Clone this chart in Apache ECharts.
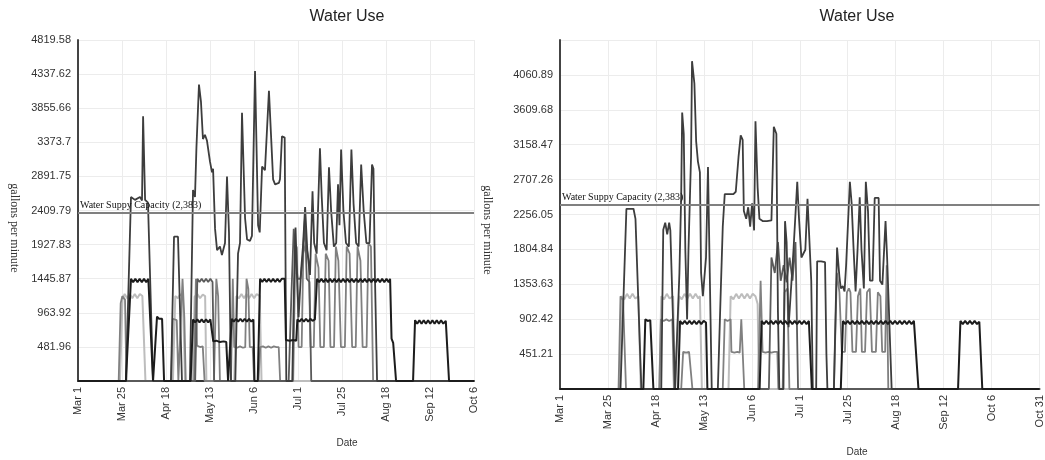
<!DOCTYPE html>
<html>
<head>
<meta charset="utf-8">
<title>Water Use</title>
<script src="https://cdn.jsdelivr.net/npm/echarts@6.0.0/dist/echarts.min.js"></script>
<style>
  html, body { margin: 0; padding: 0; background: #fff; }
  #chart { width: 1045px; height: 460px; }
</style>
</head>
<body>
<div id="chart"></div>
<script>
// tick labels
var leftDates = ['Mar 1', 'Mar 25', 'Apr 18', 'May 13', 'Jun 6', 'Jul 1', 'Jul 25', 'Aug 18', 'Sep 12', 'Oct 6'];
var rightDates = ['Mar 1', 'Mar 25', 'Apr 18', 'May 13', 'Jun 6', 'Jul 1', 'Jul 25', 'Aug 18', 'Sep 12', 'Oct 6', 'Oct 31'];
var leftTicks = ['', '481.96', '963.92', '1445.87', '1927.83', '2409.79', '2891.75', '3373.7', '3855.66', '4337.62', '4819.58'];
var rightTicks = ['', '451.21', '902.42', '1353.63', '1804.84', '2256.05', '2707.26', '3158.47', '3609.68', '4060.89', ''];

var capacity = 2383;
var capacityLabel = 'Water Suppy Capacity (2,383)';

// [day since Mar 1, gallons per minute]  -- left chart
var leftPeak = [[0,0],[26.5,0],[29.3,2600],[31.5,2560],[34.3,2600],[35.4,2550],[36.0,3740],[37.1,2560],[38.7,2520],[41.5,0],
  [51.4,0],[53.1,2040],[55.3,2040],[57.5,0],
  [61.9,0],[63.6,2700],[64.7,2600],[65.5,3300],[66.9,4190],[68.0,3950],[69.1,3420],[70.2,3480],[71.3,3400],[73.0,3100],[74.1,2950],[74.7,3000],[75.8,2150],[76.9,1850],[78.5,1900],[79.6,1780],[81.3,1950],[82.4,2890],[83.5,2100],[84.6,0],
  [87,0],[88.5,1800],[89.6,1950],[90.7,3790],[92.4,2300],[93.5,2000],[95.1,1980],[96.2,2050],[97.9,4380],[99.6,2200],[100.5,2100],[101.8,3030],[103.4,2980],[104.5,3000],[105.6,4100],[106.7,3500],[107.9,2850],[109,2780],[111.1,2800],[111.7,2850],[112.8,3460],[114.3,3440],[115.2,0],
  [118.5,0],[119.5,1400],[120.3,2170],[121.1,1500],[122,900],[123.5,1600],[124.4,1900],[125.6,2460],[126.8,1850],[128.3,1500],[129.7,2680],[130.6,1950],[132,1800],[133.8,3290],[134.8,2600],[136,1950],[137.5,1850],[138.8,3020],[140,2400],[141.5,1900],[142.8,1950],[143.8,2780],[144.6,2200],[145.5,3270],[146.8,2400],[148.2,1950],[149.8,1900],[151.2,3270],[152.4,2500],[153.8,1950],[155.2,1900],[156.6,3060],[158,2400],[159.5,1950],[161.2,1950],[162.6,3060],[163.4,3000],[164.2,1500],[165.4,0],[219,0]];

var leftBase = [[0,0],[26.5,0],[29.3,1445],[30.5,1395],[31.7,1445],[32.9,1395],[34.1,1445],[35.3,1395],[36.5,1445],[37.7,1395],[38.9,1445],[39.8,1445],[41.5,0],
  [42.6,0],[43.7,910],[44.8,880],[45.9,900],[46.5,880],[47.6,0],
  [62.3,0],[63.6,870],[64.8,830],[66,870],[67.2,830],[68.4,870],[69.6,830],[70.8,870],[72,830],[73.2,870],[74.1,860],[74.8,560],[76.5,570],[78.5,550],[80.5,560],[82,550],[83,0],
  [84.1,0],[85,880],[86.2,840],[87.4,880],[88.6,840],[89.8,880],[91,840],[92.2,880],[93.4,840],[94.6,880],[95.8,840],[97,870],[97.6,0],
  [99.4,0],[100.7,1445],[101.9,1400],[103.1,1445],[104.3,1400],[105.5,1445],[106.7,1400],[107.9,1445],[109.1,1400],[110.3,1445],[111.5,1400],[112.7,1445],[114.3,1445],[115,580],[117,570],[119,580],[120.7,570],
  [121.3,870],[122.5,840],[123.7,880],[124.9,840],[126.1,880],[127.3,840],[128.5,880],[129.7,850],[131,870],[132.2,1445],
  [133.4,1395],[134.6,1445],[135.8,1395],[137,1445],[138.2,1395],[139.4,1445],[140.6,1395],[141.8,1445],[143,1395],[144.2,1445],[145.4,1395],[146.6,1445],[147.8,1395],[149,1445],[150.2,1395],[151.4,1445],[152.6,1395],[153.8,1445],[155,1395],[156.2,1445],[157.4,1395],[158.6,1445],[159.8,1395],[161,1445],[162.2,1395],[163.4,1445],[164.6,1395],[165.8,1445],[167,1395],[168.2,1445],[169.4,1395],[170.6,1445],[171.8,1395],[172.6,1445],[173.4,600],[174.3,540],[175.9,0],
  [185.3,0],[186.4,860],[187.6,810],[188.8,860],[190,810],[191.2,860],[192.4,810],[193.6,860],[194.8,810],[196,860],[197.2,810],[198.4,860],[199.6,810],[200.8,860],[202,810],[203.4,850],[205.2,0],[219,0]];

var leftLight = [[0,0],[23.2,0],[24.6,1150],[25.8,1230],[27.2,1170],[28.6,1230],[30,1170],[31.4,1230],[32.8,1170],[34.2,1230],[35.6,1200],[36.5,1180],[37.3,0],
  [52.5,0],[53.8,1200],[55.2,1170],[56.6,1230],[58,1180],[59.2,0],
  [63.4,0],[64.5,1190],[66,1230],[67.5,1170],[69,1220],[70.3,1200],[71,0],
  [86.4,0],[87.6,1200],[89,1170],[90.4,1230],[91.8,1170],[93.2,1230],[94.6,1170],[96,1230],[97.4,1170],[98.8,1230],[100.5,1200],[101.5,0],[219,0]];

var leftMid = [[0,0],[22.5,0],[23.6,1100],[24.5,1200],[26,1150],[26.8,0],
  [51.6,0],[52.4,880],[54.6,860],[55.5,0],
  [56.5,0],[57.8,1445],[58.8,900],[59.6,0],
  [64.2,0],[65.2,1445],[65.8,500],[67.5,480],[69,490],[70,0],
  [75.2,0],[76.5,1445],[77.5,1200],[78.5,0],
  [84.6,0],[85.6,1445],[86.4,480],[88,470],[89.6,490],[91.2,470],[92.5,480],[93.2,1445],[94.2,1300],[95,480],[96.6,480],[97.4,0],
  [99.8,0],[100.8,480],[102.3,490],[103.8,470],[105.3,490],[106.8,470],[108.3,490],[109.8,480],[111,480],[111.8,0],
  [119,0],[120,1500],[121,1900],[122,480],[123.7,480],[124.6,1800],[126,1950],[127.6,1700],[128.6,480],[130.4,480],[131.4,1800],[133,1600],[134,480],[136,480],[137,1800],[138.6,1700],[139.6,480],[141.6,480],[142.6,1900],[144,1700],[145.4,480],[147.6,480],[148.6,1900],[150.2,1800],[151.6,480],[153.6,480],[154.6,1900],[156.2,1700],[157.4,480],[159.6,480],[160.6,1950],[162,1900],[163.2,0],[219,0]];

var leftDark = [[0,0],[64.8,0],[66,1445],[67.2,1400],[68.4,1445],[69.6,1400],[70.8,1445],[72,1400],[73.2,1445],[74.4,1400],[75.3,0],
  [115,0],[116.5,0],[118,1200],[119.3,2150],[120.5,1700],[121.5,1445],[123,1445],[124.2,1700],[125.5,2300],[126.5,1445],[128,1400],[129,0],[219,0]];

// right chart
var rightPeak = [[0,0],[30.7,0],[33.7,2330],[37.3,2330],[38.3,2200],[41.3,0],
  [51.4,0],[52.4,2060],[53.4,2150],[54.4,2000],[55.4,2150],[56,2050],[58.4,0],
  [59.4,0],[60.6,1500],[61.5,2500],[62,3575],[62.8,3300],[63.6,1800],[64.5,900],[65.2,1800],[66.5,3000],[67,4238],[68.2,3950],[69.1,3200],[70,2940],[71,2800],[71.6,1500],[72.5,1200],[74.1,1700],[75.1,2870],[76,1500],[77,0],
  [80.1,0],[81.5,1200],[82.6,2100],[83.6,2520],[85.6,2520],[88,2520],[89.2,2550],[90.6,3000],[91.7,3280],[92.7,3220],[93.3,2300],[94.5,2200],[95.5,2350],[96.5,2100],[97.5,2400],[98.5,2050],[99.2,3460],[100.3,2600],[101.2,2200],[103,2170],[105,2170],[107.3,2180],[108.5,3390],[109.8,3300],[110.6,1000],[111.3,0],
  [113.4,0],[114.2,2170],[115,1900],[116,800],[117,1200],[118.5,1800],[120.4,2680],[121.3,2200],[122.5,1700],[124.5,1800],[125.6,2460],[126.6,2450],[127.5,1400],[128.3,0],
  [130,0],[130.5,1650],[132.5,1650],[134.5,1640],[135.2,450],[135.7,0],
  [139,0],[140.6,1830],[141.8,1450],[142.5,1300],[143.5,1330],[144.4,1260],[145.2,1600],[147.1,2680],[148,2400],[149,1800],[150,1260],[151,1800],[152.1,2480],[153,1800],[154.2,1300],[155.2,2680],[156.3,2300],[157.3,1400],[158.6,1400],[159.7,2470],[161.7,2470],[162.4,1400],[163.6,1350],[165.2,2170],[166,1700],[168.3,0],[243.3,0]];

var rightBase = [[0,0],[42.3,0],[43.3,900],[44.5,880],[45.8,890],[46.4,880],[47.4,0],
  [59.9,0],[60.9,880],[62.1,840],[63.3,880],[64.5,840],[65.7,880],[66.9,840],[68.1,880],[69.3,840],[70.5,880],[71.7,840],[72.9,880],[74.1,860],[74.8,0],
  [101.3,0],[102.3,880],[103.5,840],[104.7,880],[105.9,840],[107.1,880],[108.3,840],[109.5,880],[110.7,840],[111.9,880],[113.1,840],[114.3,880],[115.5,840],[116.7,880],[117.9,840],[119.1,880],[120.3,840],[121.5,880],[122.7,840],[123.9,880],[125.1,840],[126.3,880],[127.2,860],[127.8,0],
  [142.5,0],[143.6,880],[144.8,840],[146,880],[147.2,840],[148.4,880],[149.6,840],[150.8,880],[152,840],[153.2,880],[154.4,840],[155.6,880],[156.8,840],[158,880],[159.2,840],[160.4,880],[161.6,840],[162.8,880],[164,840],[165.2,880],[166.4,840],[167.6,880],[168.8,840],[170,880],[171.2,840],[172.4,880],[173.6,840],[174.8,880],[176,840],[177.2,880],[178.4,840],[179.6,880],[180.6,860],[181.9,0],
  [202,0],[203.2,880],[204.4,840],[205.6,880],[206.8,840],[208,880],[209.2,840],[210.4,880],[211.6,840],[212.8,870],[214.3,0],[243.3,0]];

var rightLight = [[0,0],[30.2,0],[31.2,1200],[32.6,1160],[34,1230],[35.4,1170],[36.8,1230],[38.2,1170],[39.8,1200],[41,0],
  [50.4,0],[51.4,1200],[52.8,1160],[54.2,1230],[55.6,1170],[57.4,1200],[58.4,0],
  [59.4,0],[60.4,1200],[61.8,1160],[63.2,1230],[64.6,1170],[66,1230],[67.4,1170],[68.8,1230],[70.2,1170],[71,1200],[72,0],
  [85.5,0],[86.6,1200],[88,1160],[89.4,1230],[90.8,1170],[92.2,1230],[93.6,1170],[95,1230],[96.4,1170],[97.8,1230],[99.2,1200],[100.3,1100],[101,0],[243.3,0]];

var rightMid = [[0,0],[29.7,0],[30.7,1200],[32,1150],[33.5,0],
  [50.4,0],[51.2,900],[52.6,880],[54,900],[55.4,880],[57,900],[57.8,0],
  [61.5,0],[62.5,480],[64,470],[65.5,480],[66.5,460],[67.2,0],
  [82.6,0],[83.6,900],[85,880],[86.6,900],[87,480],[88.5,470],[90,480],[91.2,470],[92,900],[93.5,0],
  [100.5,0],[101.8,1400],[102.8,480],[104.3,470],[105.8,480],[107.3,470],[108.8,480],[110.3,480],[110.8,0],
  [113,0],[114,1250],[115.4,1300],[116.4,0],
  [139,0],[140.5,1500],[141.8,1250],[143,480],[144.6,480],[145.6,1250],[146.6,1300],[147.4,1250],[148.4,480],[150.2,480],[151.2,1200],[152.4,1300],[153.2,480],[154.8,480],[155.8,1250],[157.2,1300],[158.3,480],[160.3,480],[161.3,1250],[162.6,1200],[163.5,480],[165,480],[165.8,1600],[166.6,0],[243.3,0]];

var rightDark = [[0,0],[106,0],[107.3,1700],[109,1500],[110.6,1900],[112,1400],[113.5,1600],[115,1380],[116.5,1700],[118,1400],[119.5,1900],[120.8,0],[243.3,0]];

var step = 219 / 9;
var serifFont = '"Liberation Serif", "DejaVu Serif", serif';
var sansFont = '"Liberation Sans", Arial, sans-serif';

function lineSeries (data, color, width, idx) {
  return {
    type: 'line',
    data: data,
    xAxisIndex: idx,
    yAxisIndex: idx,
    showSymbol: false,
    symbol: 'none',
    animation: false,
    lineStyle: { color: color, width: width }
  };
}

function capLine () {
  return {
    silent: true,
    symbol: 'none',
    label: {
      position: 'insideStartTop',
      formatter: capacityLabel,
      fontFamily: serifFont,
      fontSize: 10,
      color: '#111',
      distance: [2, 2]
    },
    lineStyle: { color: '#808080', width: 2, type: 'solid' },
    data: [{ yAxis: capacity }]
  };
}

function xAxisFor (idx, labels) {
  return {
    type: 'value',
    gridIndex: idx,
    min: 0,
    max: step * (labels.length - 1),
    interval: step,
    axisLine: { lineStyle: { color: '#333', width: 2 } },
    axisTick: { show: false },
    splitLine: { show: true, lineStyle: { color: '#ececec', width: 1 } },
    axisLabel: {
      rotate: 90,
      fontSize: 11,
      fontFamily: sansFont,
      color: '#333',
      margin: 6,
      showMaxLabel: true,
      formatter: function (v) { return labels[Math.round(v / step)] || ''; }
    }
  };
}

function yAxisFor (idx, labels, interval) {
  return {
    type: 'value',
    gridIndex: idx,
    min: 0,
    max: interval * 10,
    interval: interval,
    axisLine: { show: true, lineStyle: { color: '#444', width: 2 } },
    axisTick: { show: false },
    splitLine: { show: true, lineStyle: { color: '#ececec', width: 1 } },
    axisLabel: {
      fontSize: 11,
      fontFamily: sansFont,
      color: '#333',
      margin: 7,
      formatter: function (v) { return labels[Math.round(v / interval)] || ''; }
    }
  };
}

var chart = echarts.init(document.getElementById('chart'));

var s0 = lineSeries(leftLight, '#bdbdbd', 2, 0);
var s5 = lineSeries(rightLight, '#bdbdbd', 2, 1);
var leftFirst = lineSeries(leftMid, '#808080', 1.8, 0);
leftFirst.markLine = capLine();
var rightFirst = lineSeries(rightMid, '#808080', 1.8, 1);
rightFirst.markLine = capLine();

chart.setOption({
  backgroundColor: '#fff',
  animation: false,
  grid: [
    { left: 78, top: 40, width: 396, bottom: 79 },
    { left: 560, top: 40, width: 484, bottom: 71 }
  ],
  xAxis: [xAxisFor(0, leftDates), xAxisFor(1, rightDates)],
  yAxis: [yAxisFor(0, leftTicks, 481.958), yAxisFor(1, rightTicks, 451.21)],
  graphic: [
    { type: 'text', x: 347, y: 17, style: { text: 'Water Use', font: '16px ' + sansFont, fill: '#222', align: 'center', verticalAlign: 'middle' } },
    { type: 'text', x: 857, y: 17, style: { text: 'Water Use', font: '16px ' + sansFont, fill: '#222', align: 'center', verticalAlign: 'middle' } },
    { type: 'text', x: 14, y: 228, rotation: -Math.PI / 2, style: { text: 'gallons per minute', font: '12px ' + serifFont, fill: '#333', align: 'center', verticalAlign: 'middle' } },
    { type: 'text', x: 487, y: 230, rotation: -Math.PI / 2, style: { text: 'gallons per minute', font: '12px ' + serifFont, fill: '#333', align: 'center', verticalAlign: 'middle' } },
    { type: 'text', x: 347, y: 443, style: { text: 'Date', font: '10px ' + sansFont, fill: '#333', align: 'center', verticalAlign: 'middle' } },
    { type: 'text', x: 857, y: 452, style: { text: 'Date', font: '10px ' + sansFont, fill: '#333', align: 'center', verticalAlign: 'middle' } }
  ],
  series: [
    s0,
    leftFirst,
    lineSeries(leftDark, '#5a5a5a', 1.8, 0),
    lineSeries(leftPeak, '#3d3d3d', 1.8, 0),
    lineSeries(leftBase, '#1c1c1c', 2, 0),
    s5,
    rightFirst,
    lineSeries(rightDark, '#5a5a5a', 1.8, 1),
    lineSeries(rightPeak, '#3d3d3d', 1.8, 1),
    lineSeries(rightBase, '#1c1c1c', 2, 1)
  ]
});
</script>
</body>
</html>
